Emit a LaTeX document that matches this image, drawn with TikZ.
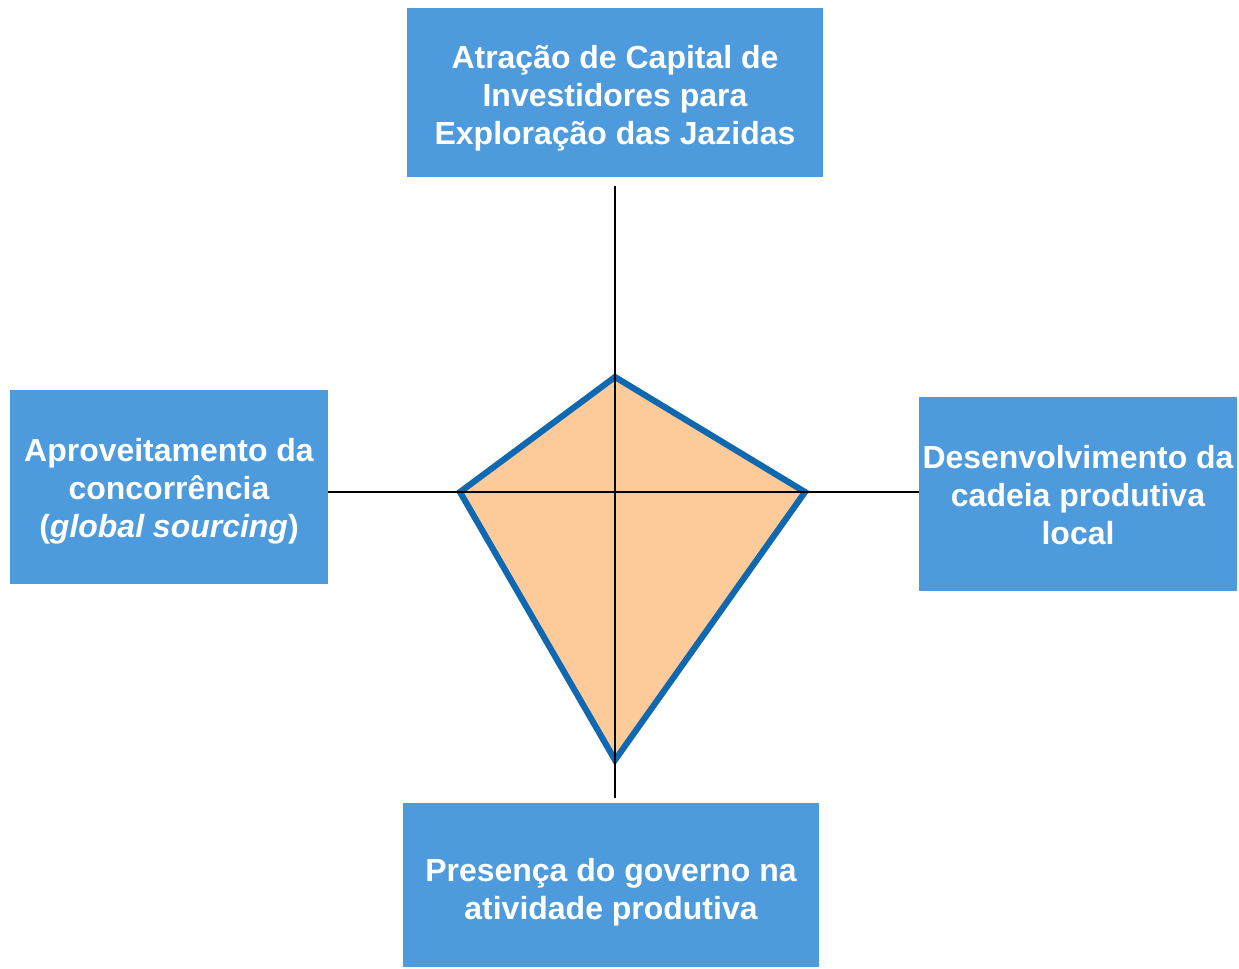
\documentclass[tikz,border=0pt]{standalone}
\usepackage{fontspec}
\setmainfont{Liberation Sans}
\definecolor{caixaazul}{HTML}{4D9BDC}
\definecolor{pipaborda}{HTML}{1068B0}
\definecolor{pipafundo}{HTML}{FDCB99}
\begin{document}
\begin{tikzpicture}[x=0.02cm,y=-0.02cm,
  caixa/.style={fill=caixaazul,inner sep=0pt},
  rotulo/.style={text=white,align=center,inner sep=0pt,
    font=\bfseries\fontsize{18.2}{21.6}\selectfont},
  eixo/.style={line width=1.1pt}]
\useasboundingbox (0,0) rectangle (1239,968);
\coordinate (pt) at (615,377);
\coordinate (pd) at (805,492);
\coordinate (pb) at (615,760);
\coordinate (pe) at (460,492);
\draw[pipaborda,fill=pipafundo,line width=3.5pt,line join=miter] (pt)--(pd)--(pb)--(pe)--cycle;
% caixas
\node[caixa,minimum width=8.32cm,minimum height=3.38cm] (atracao) at (615,92.5) {};
\node[caixa,minimum width=6.36cm,minimum height=3.88cm] (aprov) at (169,487) {};
\node[caixa,minimum width=6.36cm,minimum height=3.88cm] (desenv) at (1078,494) {};
\node[caixa,minimum width=8.32cm,minimum height=3.28cm] (governo) at (611,885) {};
% textos
\node[rotulo] (atracaotxt) at (615,98) {Atração de Capital de\\Investidores para\\Exploração das Jazidas};
\node[rotulo] (aprovtxt) at (169,491) {Aproveitamento da\\concorrência\\(\textit{global sourcing})};
\node[rotulo] (desenvtxt) at (1078,495.5) {Desenvolvimento da\\cadeia produtiva\\local};
\node[rotulo] (governotxt) at (611,892) {Presença do governo na\\atividade produtiva};
% eixos
\coordinate (vcima) at (615,186);
\coordinate (vbaixo) at (615,798);
\draw[eixo] (vcima)--(vbaixo);
\draw[eixo] (aprov.east |- pe)--(desenv.west |- pd);
\end{tikzpicture}
\end{document}
